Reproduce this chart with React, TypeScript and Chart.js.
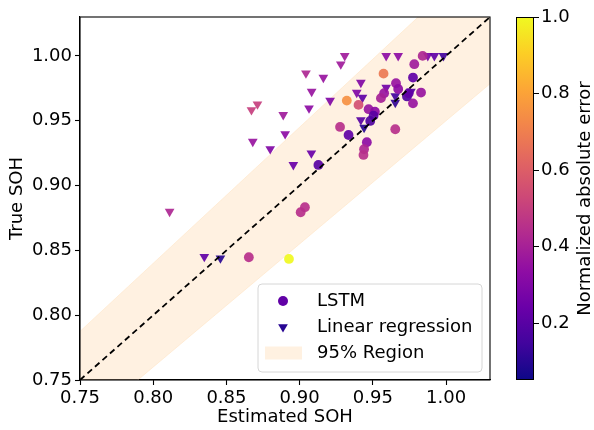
import React, { useEffect, useRef } from 'react';
import { Chart, registerables } from 'chart.js';

Chart.register(...registerables);

// ---- data ----
const xTicks = [0.75, 0.8, 0.85, 0.9, 0.95, 1.0];
const yTicks = [0.75, 0.8, 0.85, 0.9, 0.95, 1.0];
const axisRange = [0.75, 1.03];
const cbTicks = [0.2, 0.4, 0.6, 0.8, 1.0];
const cbRange = [0.05, 1.0];

const lstmEst = [0.984, 0.9783, 0.9573, 0.9774, 0.9658, 0.9673, 0.9577, 0.9555, 0.9322, 0.9402, 0.9471, 0.9514, 0.9505, 0.9482, 0.9733, 0.9745, 0.9829, 0.9774, 0.9653, 0.9276, 0.9334, 0.9459, 0.944, 0.9436, 0.9128, 0.9007, 0.9036, 0.8653, 0.8927];
const lstmTrue = [1.0, 0.9936, 0.9863, 0.9833, 0.9789, 0.9745, 0.9712, 0.9674, 0.9655, 0.9622, 0.9589, 0.957, 0.9539, 0.9498, 0.9687, 0.9712, 0.9717, 0.9634, 0.9434, 0.9452, 0.939, 0.9334, 0.928, 0.9236, 0.9159, 0.8794, 0.8833, 0.8447, 0.8434];
const lstmErr = [0.42, 0.38, 0.68, 0.22, 0.36, 0.33, 0.36, 0.4, 0.75, 0.55, 0.36, 0.33, 0.2, 0.18, 0.18, 0.22, 0.36, 0.36, 0.45, 0.45, 0.22, 0.33, 0.42, 0.45, 0.2, 0.45, 0.45, 0.45, 1.0];

const lrEst = [0.8671, 0.8712, 0.8888, 0.8901, 0.868, 0.8799, 0.8957, 0.908, 0.9308, 0.9281, 0.9591, 0.9673, 0.9875, 0.992, 0.9982, 0.9043, 0.9162, 0.9418, 0.9082, 0.939, 0.9429, 0.9208, 0.9064, 0.9591, 0.9653, 0.9653, 0.976, 0.9418, 0.944, 0.8349, 0.8459, 0.8112];
const lrTrue = [0.9583, 0.9627, 0.9545, 0.9398, 0.9339, 0.9282, 0.9159, 0.9249, 1.0, 0.9936, 1.0, 1.0, 1.0, 1.0, 1.0, 0.9866, 0.9833, 0.9794, 0.9725, 0.9717, 0.9678, 0.9655, 0.9596, 0.9756, 0.9691, 0.964, 0.9725, 0.9506, 0.9447, 0.8451, 0.8439, 0.8799];
const lrErr = [0.5, 0.5, 0.38, 0.33, 0.36, 0.3, 0.24, 0.24, 0.38, 0.38, 0.33, 0.33, 0.28, 0.22, 0.15, 0.42, 0.36, 0.3, 0.36, 0.3, 0.22, 0.3, 0.33, 0.26, 0.15, 0.12, 0.18, 0.2, 0.1, 0.22, 0.1, 0.42];

const diagX = [0.75, 1.03];
const diagY = [0.75, 1.03];
const bandX = [0.75, 1.03];
const bandLower = [0.7125, 0.9785];
const bandUpper = [0.7875, 1.0815];

// plasma colormap stops
const plasmaStops = ['#0d0887', '#41049d', '#6a00a8', '#8f0da4', '#b12a90', '#cc4778', '#e16462', '#f2844b', '#fca636', '#fcce25', '#f0f921'];

const FONT = 'DejaVu Sans';
const FS = 18;

function hexToRgb(h: string) {
  return [parseInt(h.slice(1, 3), 16), parseInt(h.slice(3, 5), 16), parseInt(h.slice(5, 7), 16)];
}
function plasma(t: number, alpha = 1) {
  t = Math.max(0, Math.min(1, t));
  const n = plasmaStops.length - 1;
  const i = Math.min(n - 1, Math.floor(t * n));
  const f = t * n - i;
  const a = hexToRgb(plasmaStops[i]);
  const b = hexToRgb(plasmaStops[i + 1]);
  const c = a.map((v, k) => Math.round(v + (b[k] - v) * f));
  return `rgba(${c[0]},${c[1]},${c[2]},${alpha})`;
}
function errColor(e: number, alpha = 0.92) {
  return plasma((e - cbRange[0]) / (cbRange[1] - cbRange[0]), alpha);
}

const overlay = {
  id: 'overlay',
  afterDatasetsDraw(chart: any) {
    const { ctx, chartArea: a } = chart;
    ctx.save();
    ctx.strokeStyle = '#000';
    ctx.lineWidth = 1.1;
    ctx.strokeRect(a.left, a.top, a.right - a.left, a.bottom - a.top);
    ctx.restore();
  },
  afterDraw(chart: any) {
    const { ctx, chartArea: a } = chart;
    ctx.save();
    // legend
    const lx = a.right - 232, ly = a.bottom - 96, lw = 224, lh = 88;
    ctx.beginPath();
    ctx.roundRect(lx, ly, lw, lh, 4);
    ctx.fillStyle = 'rgba(255,255,255,0.8)';
    ctx.fill();
    ctx.strokeStyle = '#d6d6d6';
    ctx.lineWidth = 1;
    ctx.stroke();
    ctx.font = `${FS}px "${FONT}"`;
    ctx.textBaseline = 'middle';
    ctx.textAlign = 'left';
    const mx = lx + 25, tx = lx + 59;
    const rows = [ly + 17, ly + 43, ly + 69];
    ctx.fillStyle = errColor(0.22, 1);
    ctx.beginPath();
    ctx.arc(mx, rows[0], 5, 0, Math.PI * 2);
    ctx.fill();
    ctx.fillStyle = errColor(0.1, 1);
    ctx.beginPath();
    const r = 5.6;
    ctx.moveTo(mx - r * 0.866, rows[1] - r * 0.5);
    ctx.lineTo(mx + r * 0.866, rows[1] - r * 0.5);
    ctx.lineTo(mx, rows[1] + r);
    ctx.closePath();
    ctx.fill();
    ctx.fillStyle = 'rgba(255,228,196,0.5)';
    ctx.fillRect(lx + 7, rows[2] - 6.5, 37, 13);
    ctx.fillStyle = '#000';
    ctx.fillText('LSTM', tx, rows[0]);
    ctx.fillText('Linear regression', tx, rows[1]);
    ctx.fillText('95% Region', tx, rows[2]);

    // colorbar
    const cx = a.right + 26, cw = 18, ct = a.top, cb = a.bottom;
    const g = ctx.createLinearGradient(0, cb, 0, ct);
    plasmaStops.forEach((c, i) => g.addColorStop(i / (plasmaStops.length - 1), c));
    ctx.fillStyle = g;
    ctx.fillRect(cx, ct, cw, cb - ct);
    ctx.strokeStyle = '#000';
    ctx.lineWidth = 1;
    ctx.strokeRect(cx + 0.5, ct + 0.5, cw - 1, cb - ct - 1);
    const vy = (v: number) => cb - ((v - cbRange[0]) / (cbRange[1] - cbRange[0])) * (cb - ct);
    ctx.fillStyle = '#000';
    ctx.textAlign = 'left';
    cbTicks.forEach((v) => {
      const y = Math.round(vy(v)) + 0.5;
      ctx.beginPath();
      ctx.moveTo(cx + cw, y);
      ctx.lineTo(cx + cw + 5, y);
      ctx.stroke();
      ctx.fillText(v.toFixed(1), cx + cw + 7, y);
    });
    ctx.translate(cx + cw + 51, (ct + cb) / 2);
    ctx.rotate(-Math.PI / 2);
    ctx.textAlign = 'center';
    ctx.fillText('Normalized absolute error', 0, 0);
    ctx.restore();
  },
};

export default function App() {
  const ref = useRef<HTMLCanvasElement>(null);
  useEffect(() => {
    if (!ref.current) return;
    const tickFont = { family: FONT, size: FS };
    const chart = new Chart(ref.current, {
      type: 'scatter',
      data: {
        datasets: [
          {
            type: 'line',
            data: diagX.map((x, i) => ({ x, y: diagY[i] })),
            borderColor: '#000',
            borderWidth: 1.8,
            borderDash: [6, 4],
            pointRadius: 0,
            fill: false,
            order: 1,
            clip: 0,
          } as any,
          {
            label: 'LSTM',
            data: lstmEst.map((x, i) => ({ x, y: lstmTrue[i] })),
            backgroundColor: lstmErr.map((e) => errColor(e)),
            borderWidth: 0,
            pointRadius: 4.9,
            pointStyle: 'circle',
            order: 2,
          },
          {
            label: 'Linear regression',
            data: lrEst.map((x, i) => ({ x, y: lrTrue[i] })),
            backgroundColor: lrErr.map((e) => errColor(e)),
            borderWidth: 0,
            pointRadius: 5.6,
            pointStyle: 'triangle',
            rotation: 180,
            order: 3,
          },
          {
            type: 'line',
            data: bandX.map((x, i) => ({ x, y: bandUpper[i] })),
            borderColor: 'rgba(255,228,196,0.6)',
            borderWidth: 1,
            backgroundColor: 'rgba(255,228,196,0.5)',
            pointRadius: 0,
            fill: '+1',
            order: 10,
            clip: 0,
          } as any,
          {
            type: 'line',
            data: bandX.map((x, i) => ({ x, y: bandLower[i] })),
            borderColor: 'rgba(255,228,196,0.6)',
            borderWidth: 1,
            pointRadius: 0,
            fill: false,
            order: 11,
            clip: 0,
          } as any,
        ],
      },
      options: {
        responsive: false,
        animation: false,
        devicePixelRatio: 1,
        events: [],
        layout: { padding: { left: 0, top: 17, right: 104, bottom: 0 } },
        plugins: { legend: { display: false }, tooltip: { enabled: false } },
        scales: {
          x: {
            type: 'linear',
            min: axisRange[0],
            max: axisRange[1],
            afterBuildTicks: (s: any) => { s.ticks = xTicks.map((v) => ({ value: v })); },
            afterFit: (s: any) => { s.height = 50; },
            grid: { drawOnChartArea: false, drawTicks: true, tickLength: 5, color: '#000', tickWidth: 1.1 },
            border: { display: true, color: '#000', width: 1.1 },
            ticks: { color: '#000', font: tickFont, padding: 3, maxRotation: 0, callback: (v: any) => Number(v).toFixed(2) },
            title: { display: true, text: 'Estimated SOH', color: '#000', font: tickFont, padding: { top: 0, bottom: 2 } },
          },
          y: {
            type: 'linear',
            min: axisRange[0],
            max: axisRange[1],
            afterBuildTicks: (s: any) => { s.ticks = yTicks.map((v) => ({ value: v })); },
            afterFit: (s: any) => { s.width = 80; },
            grid: { drawOnChartArea: false, drawTicks: true, tickLength: 5, color: '#000', tickWidth: 1.1 },
            border: { display: true, color: '#000', width: 1.1 },
            ticks: { color: '#000', font: tickFont, padding: 3, callback: (v: any) => Number(v).toFixed(2) },
            title: { display: true, text: 'True SOH', color: '#000', font: tickFont, padding: { top: 7, bottom: 0 } },
          },
        },
      },
      plugins: [overlay],
    } as any);
    return () => chart.destroy();
  }, []);
  return (
    <div style={{ position: 'fixed', left: 0, top: 0, width: 594, height: 430, background: '#fff' }}>
      <canvas ref={ref} width={594} height={430} />
    </div>
  );
}
